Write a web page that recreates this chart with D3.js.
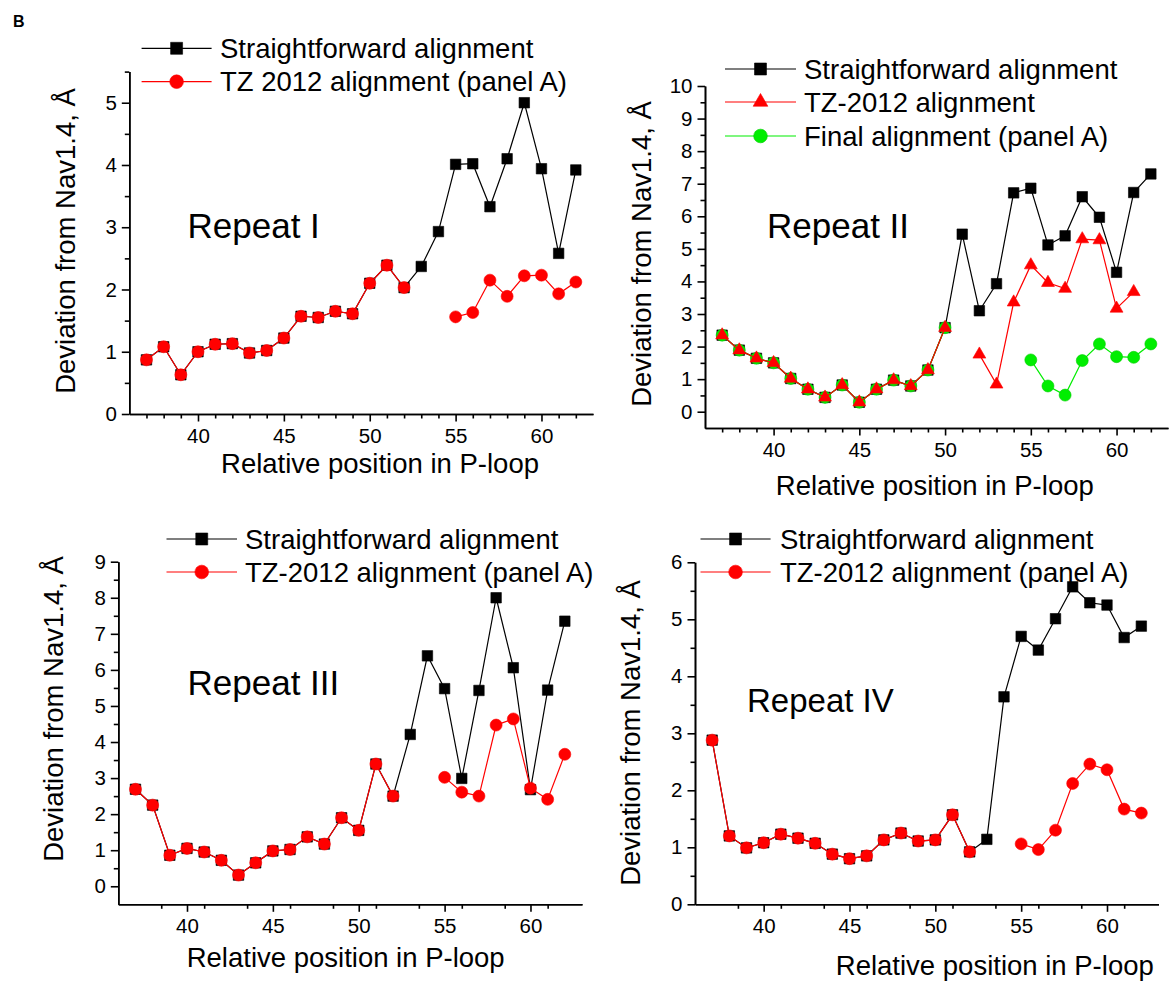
<!DOCTYPE html>
<html>
<head>
<meta charset="utf-8">
<script src="https://cdn.jsdelivr.net/npm/d3@7"></script>
<style>
body { margin: 0; background: #fff; }
svg { font-family: Arial, "Liberation Sans", sans-serif; }
.axis path, .axis line { stroke: #000; stroke-width: 1.6; }
.axis text { font-size: 20.5px; fill: #000; font-family: Arial, "Liberation Sans", sans-serif; }
</style>
</head>
<body>
<svg id="chart" width="1169" height="982"></svg>
<script>
// relative position in P-loop
const positions = [37, 38, 39, 40, 41, 42, 43, 44, 45, 46, 47, 48, 49, 50, 51, 52, 53, 54, 55, 56, 57, 58, 59, 60, 61, 62];

// Repeat I
const rep1Straight = [0.87, 1.08, 0.63, 1.00, 1.12, 1.13, 0.98, 1.02, 1.22, 1.57, 1.55, 1.65, 1.61, 2.10, 2.39, 2.03, 2.37, 2.93, 4.01, 4.02, 3.33, 4.10, 5.00, 3.94, 2.58, 3.92];
const rep1TZ = [0.87, 1.08, 0.63, 1.00, 1.12, 1.13, 0.98, 1.02, 1.22, 1.57, 1.55, 1.65, 1.61, 2.10, 2.39, 2.03, null, null, 1.56, 1.63, 2.15, 1.89, 2.22, 2.23, 1.93, 2.12];

// Repeat II
const rep2Straight = [2.35, 1.89, 1.64, 1.50, 1.02, 0.69, 0.44, 0.82, 0.29, 0.69, 0.97, 0.79, 1.28, 2.58, 5.45, 3.10, 3.93, 6.72, 6.86, 5.12, 5.40, 6.60, 5.97, 4.28, 6.73, 7.30];
const rep2TZ = [2.35, 1.89, 1.64, 1.50, 1.02, 0.69, 0.44, 0.82, 0.29, 0.69, 0.97, 0.79, 1.28, 2.58, null, 1.76, 0.84, 3.36, 4.50, 3.96, 3.78, 5.30, 5.27, 3.17, 3.68, null];
const rep2Final = [2.35, 1.89, 1.64, 1.50, 1.02, 0.69, 0.44, 0.82, 0.29, 0.69, 0.97, 0.79, 1.28, 2.58, null, null, null, null, 1.59, 0.79, 0.51, 1.57, 2.08, 1.69, 1.67, 2.08];

// Repeat III
const rep3Straight = [2.69, 2.25, 0.86, 1.05, 0.95, 0.72, 0.31, 0.65, 0.98, 1.02, 1.37, 1.17, 1.90, 1.55, 3.39, 2.50, 4.21, 6.39, 5.48, 2.99, 5.43, 8.00, 6.06, 2.68, 5.44, 7.35];
const rep3TZ = [2.69, 2.25, 0.86, 1.05, 0.95, 0.72, 0.31, 0.65, 0.98, 1.02, 1.37, 1.17, 1.90, 1.55, 3.39, 2.50, null, null, 3.02, 2.61, 2.50, 4.47, 4.64, 2.72, 2.41, 3.66];

// Repeat IV
const rep4Straight = [2.88, 1.20, 0.99, 1.08, 1.23, 1.16, 1.07, 0.88, 0.80, 0.85, 1.13, 1.25, 1.11, 1.13, 1.57, 0.92, 1.14, 3.64, 4.70, 4.46, 5.01, 5.57, 5.29, 5.25, 4.68, 4.88];
const rep4TZ = [2.88, 1.20, 0.99, 1.08, 1.23, 1.16, 1.07, 0.88, 0.80, 0.85, 1.13, 1.25, 1.11, 1.13, 1.57, 0.92, null, null, 1.06, 0.96, 1.30, 2.12, 2.46, 2.36, 1.67, 1.60];

// tick labels
const xTicks = [40, 45, 50, 55, 60];
const yTicks1 = [0, 1, 2, 3, 4, 5];
const yTicks2 = [0, 1, 2, 3, 4, 5, 6, 7, 8, 9, 10];
const yTicks3 = [0, 1, 2, 3, 4, 5, 6, 7, 8, 9];
const yTicks4 = [0, 1, 2, 3, 4, 5, 6];

const xTitle = "Relative position in P-loop";
const yTitle = "Deviation from Nav1.4, Å";

const BLACK = "#000000", RED = "#ff0000", GREEN = "#00ee00";

const panels = [
    {
        x: [129.3, 593], y: [414, 71.6], yDomain: [0, 5.5], yTicks: yTicks1, xMinorStep: 1,
        series: [
            { name: "Straightforward alignment", values: rep1Straight, color: BLACK, sym: "square" },
            { name: "TZ 2012 alignment (panel A)", values: rep1TZ, color: RED, sym: "circle" }
        ],
        drawOrder: [0, 1],
        legend: { x0: 141.6, x1: 211.6, tx: 220, rows: [48.3, 81.7] },
        repeat: { text: "Repeat I", x: 187.5, y: 238, size: 35 },
        xTitlePos: [380, 473], yTitlePos: [74.6, 241]
    },
    {
        x: [705, 1168], y: [428, 86], yDomain: [-0.5, 10], yTicks: yTicks2, xMinorStep: 1,
        series: [
            { name: "Straightforward alignment", values: rep2Straight, color: BLACK, sym: "square" },
            { name: "TZ-2012 alignment", values: rep2TZ, color: RED, sym: "triangle" },
            { name: "Final alignment (panel A)", values: rep2Final, color: GREEN, sym: "circle" }
        ],
        drawOrder: [0, 2, 1],
        legend: { x0: 725, x1: 796, tx: 804, rows: [69, 102, 136] },
        repeat: { text: "Repeat II", x: 767, y: 238, size: 35 },
        xTitlePos: [934.8, 495], yTitlePos: [650.8, 254]
    },
    {
        x: [118.3, 582], y: [904.3, 561.7], yDomain: [-0.5, 9], yTicks: yTicks3, xMinorStep: 2.5,
        series: [
            { name: "Straightforward alignment", values: rep3Straight, color: BLACK, sym: "square" },
            { name: "TZ-2012 alignment (panel A)", values: rep3TZ, color: RED, sym: "circle" }
        ],
        drawOrder: [0, 1],
        legend: { x0: 166.5, x1: 237, tx: 245, rows: [539, 572] },
        repeat: { text: "Repeat III", x: 187.5, y: 695, size: 35 },
        xTitlePos: [345.7, 967], yTitlePos: [63, 709]
    },
    {
        x: [695, 1158.5], y: [904.3, 562.3], yDomain: [0, 6], yTicks: yTicks4, xMinorStep: 2.5,
        series: [
            { name: "Straightforward alignment", values: rep4Straight, color: BLACK, sym: "square" },
            { name: "TZ-2012 alignment (panel A)", values: rep4TZ, color: RED, sym: "circle" }
        ],
        drawOrder: [0, 1],
        legend: { x0: 700.5, x1: 770.6, tx: 780, rows: [539, 572] },
        repeat: { text: "Repeat IV", x: 747, y: 712, size: 33 },
        xTitlePos: [994.8, 975], yTitlePos: [640, 733]
    }
];

const svg = d3.select("#chart");

svg.append("text")
    .attr("x", 13)
    .attr("y", 26.7)
    .attr("font-size", 16)
    .attr("font-weight", "bold")
    .text("B");

function symbolPath(sym, scale = 1) {
    if (sym === "square") return d3.symbol().type(d3.symbolSquare).size(110 * scale)();
    if (sym === "triangle") return d3.symbol().type(d3.symbolTriangle).size(72 * scale)();
    return d3.symbol().type(d3.symbolCircle).size(113 * scale)();
}

function drawPanel(p) {
    const g = svg.append("g");

    const xScale = d3.scaleLinear().domain([36, 63]).range(p.x);
    const yScale = d3.scaleLinear().domain(p.yDomain).range(p.y);

    const xMinor = d3.range(36, 63.001, p.xMinorStep)
        .filter(v => v > 36 && v < 63 && !xTicks.includes(v));
    const yMinor = d3.range(0.5, p.yDomain[1] + 0.001, 1);

    // minor ticks first, then the major axis on top
    g.append("g")
        .attr("class", "axis")
        .attr("transform", `translate(0,${p.y[0]})`)
        .call(d3.axisBottom(xScale).tickValues(xMinor).tickSize(4.5).tickSizeOuter(0).tickFormat(""));

    g.append("g")
        .attr("class", "axis")
        .attr("transform", `translate(0,${p.y[0]})`)
        .call(d3.axisBottom(xScale).tickValues(xTicks).tickSize(7.5).tickPadding(7)
            .tickSizeOuter(0).tickFormat(d3.format("d")));

    g.append("g")
        .attr("class", "axis")
        .attr("transform", `translate(${p.x[0]},0)`)
        .call(d3.axisLeft(yScale).tickValues(yMinor).tickSize(4.5).tickSizeOuter(0).tickFormat(""));

    g.append("g")
        .attr("class", "axis")
        .attr("transform", `translate(${p.x[0]},0)`)
        .call(d3.axisLeft(yScale).tickValues(p.yTicks).tickSize(7.5).tickPadding(5)
            .tickSizeOuter(0).tickFormat(d3.format("d")));

    const line = d3.line()
        .defined(d => d[1] != null)
        .x(d => xScale(d[0]))
        .y(d => yScale(d[1]));

    p.drawOrder.forEach(i => {
        const s = p.series[i];
        const pts = positions.map((x, j) => [x, s.values[j]]);

        g.append("path")
            .datum(pts)
            .attr("fill", "none")
            .attr("stroke", s.color)
            .attr("stroke-width", 1.2)
            .attr("d", line);

        g.selectAll(null)
            .data(pts.filter(d => d[1] != null))
            .join("path")
            .attr("transform", d => `translate(${xScale(d[0])},${yScale(d[1])})`)
            .attr("d", symbolPath(s.sym))
            .attr("fill", s.color)
            .attr("stroke", s.color === GREEN ? "#00cc00" : s.color)
            .attr("stroke-width", 0.6);
    });

    // legend
    const leg = g.append("g");
    const items = leg.selectAll("g")
        .data(p.series)
        .join("g")
        .attr("transform", (d, i) => `translate(0,${p.legend.rows[i]})`);

    items.append("line")
        .attr("x1", p.legend.x0)
        .attr("x2", p.legend.x1)
        .attr("stroke", d => d.color)
        .attr("stroke-width", 1.2);

    items.append("path")
        .attr("transform", `translate(${(p.legend.x0 + p.legend.x1) / 2},0)`)
        .attr("d", d => symbolPath(d.sym, 1.3))
        .attr("fill", d => d.color)
        .attr("stroke", d => d.color === GREEN ? "#00cc00" : d.color)
        .attr("stroke-width", 0.6);

    items.append("text")
        .attr("x", p.legend.tx)
        .attr("y", 9.5)
        .attr("font-size", 27.5)
        .text(d => d.name);

    g.append("text")
        .attr("x", p.repeat.x)
        .attr("y", p.repeat.y)
        .attr("font-size", p.repeat.size)
        .text(p.repeat.text);

    g.append("text")
        .attr("x", p.xTitlePos[0])
        .attr("y", p.xTitlePos[1])
        .attr("text-anchor", "middle")
        .attr("font-size", 27.5)
        .text(xTitle);

    g.append("text")
        .attr("transform", `translate(${p.yTitlePos[0]},${p.yTitlePos[1]}) rotate(-90)`)
        .attr("text-anchor", "middle")
        .attr("font-size", 27.5)
        .text(yTitle);
}

panels.forEach(drawPanel);
</script>
</body>
</html>
